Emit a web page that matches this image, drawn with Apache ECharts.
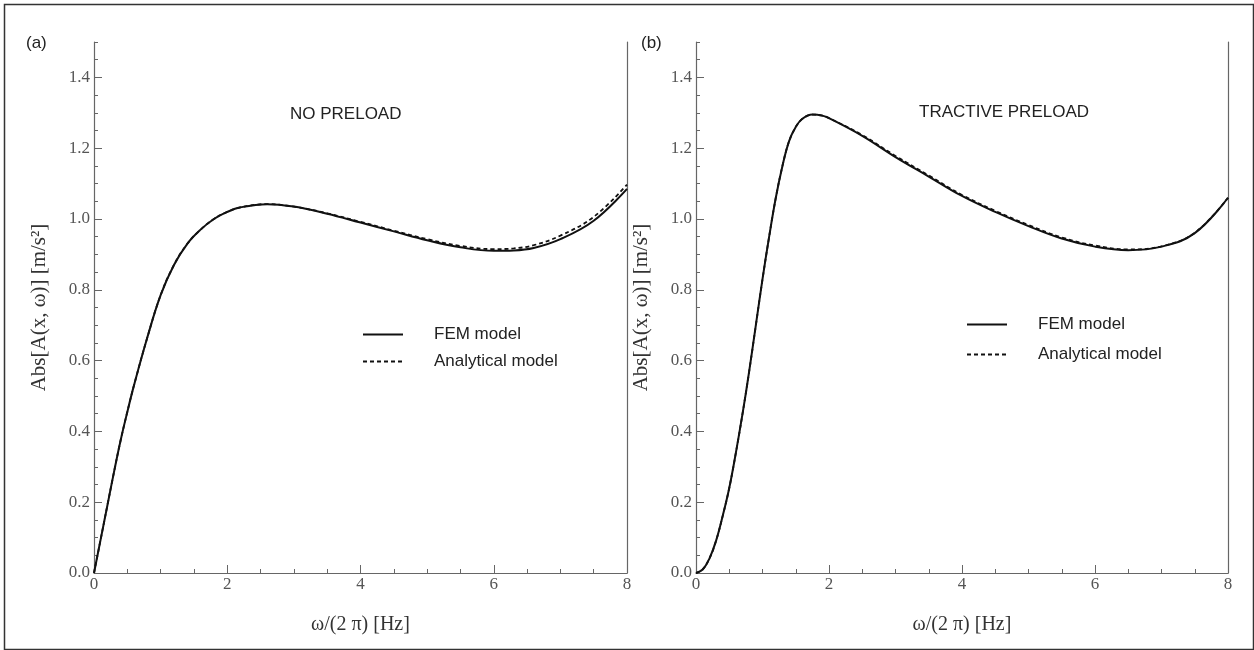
<!DOCTYPE html>
<html>
<head>
<meta charset="utf-8">
<script src="https://cdn.jsdelivr.net/npm/echarts@6/dist/echarts.min.js"></script>
<style>html,body{margin:0;padding:0;background:#fff;}#c{width:1254px;height:650px;}</style>
</head>
<body>
<div id="c"></div>
<script>
// Panel (a): NO PRELOAD
const femA = [[0,0],[0.1,0.095],[0.2,0.19],[0.3,0.285],[0.4,0.375],[0.5,0.455],[0.6,0.53],[0.8,0.665],[1.0,0.785],[1.2,0.87],[1.4,0.93],[1.6,0.97],[1.8,1.0],[2.0,1.02],[2.2,1.033],[2.6,1.042],[3.0,1.035],[3.5,1.015],[4.0,0.99],[4.5,0.965],[5.0,0.94],[5.5,0.92],[6.0,0.91],[6.3,0.911],[6.6,0.918],[7.0,0.943],[7.5,0.995],[8.0,1.085]];
const anaA = [[0,0],[0.1,0.095],[0.2,0.19],[0.3,0.285],[0.4,0.375],[0.5,0.455],[0.6,0.53],[0.8,0.665],[1.0,0.785],[1.2,0.87],[1.4,0.93],[1.6,0.97],[1.8,1.0],[2.0,1.02],[2.2,1.033],[2.6,1.042],[3.0,1.035],[3.5,1.016],[4.0,0.992],[4.5,0.967],[5.0,0.943],[5.5,0.924],[6.0,0.915],[6.3,0.917],[6.6,0.926],[7.0,0.953],[7.5,1.006],[8.0,1.097]];
// Panel (b): TRACTIVE PRELOAD
const femB = [[0,0],[0.1,0.01],[0.2,0.04],[0.3,0.09],[0.4,0.16],[0.5,0.24],[0.6,0.34],[0.7,0.45],[0.8,0.57],[0.9,0.7],[1.0,0.83],[1.1,0.95],[1.2,1.06],[1.3,1.15],[1.4,1.22],[1.5,1.26],[1.6,1.283],[1.75,1.295],[1.9,1.292],[2.0,1.285],[2.5,1.235],[3.0,1.175],[3.5,1.12],[4.0,1.065],[4.5,1.02],[5.0,0.98],[5.5,0.945],[6.0,0.922],[6.5,0.912],[7.0,0.922],[7.5,0.96],[8.0,1.06]];
const anaB = [[0,0],[0.1,0.01],[0.2,0.04],[0.3,0.09],[0.4,0.16],[0.5,0.24],[0.6,0.34],[0.7,0.45],[0.8,0.57],[0.9,0.7],[1.0,0.83],[1.1,0.95],[1.2,1.06],[1.3,1.15],[1.4,1.22],[1.5,1.26],[1.6,1.283],[1.75,1.295],[1.9,1.292],[2.0,1.285],[2.5,1.237],[3.0,1.178],[3.5,1.123],[4.0,1.068],[4.5,1.023],[5.0,0.983],[5.5,0.948],[6.0,0.925],[6.5,0.914],[7.0,0.923],[7.5,0.961],[8.0,1.06]];
const yMajor = [0,0.2,0.4,0.6,0.8,1.0,1.2,1.4];
const xMajor = [0,2,4,6,8];
const panelTitles = ['NO PRELOAD','TRACTIVE PRELOAD'];
const panelLabels = ['(a)','(b)'];
const legendNames = ['FEM model','Analytical model'];
const yName = 'Abs[A(x, ω)] [m/s²]';
const xName = 'ω/(2 π) [Hz]';

const axisColor = '#666';
const labelColor = '#555';
const serif = '"Liberation Serif","DejaVu Serif",serif';
const sans = '"Liberation Sans",Arial,sans-serif';

const grids = [
  {left:94, right:1254-627, top:42, bottom:650-573},
  {left:696, right:1254-1228, top:42, bottom:650-573}
];

const xAxes = [], yAxes = [], series = [];
[0,1].forEach(i => {
  xAxes.push({
    gridIndex:i, type:'value', min:0, max:8, interval:2,
    name:xName, nameLocation:'middle', nameGap:42,
    nameTextStyle:{fontFamily:serif, fontSize:20, color:'#333'},
    axisLine:{lineStyle:{color:axisColor, width:1.2}},
    axisTick:{inside:true, length:8, lineStyle:{color:axisColor}},
    minorTick:{show:true, splitNumber:4, length:4, lineStyle:{color:axisColor}},
    axisLabel:{fontFamily:serif, fontSize:17, color:labelColor, margin:3},
    splitLine:{show:false}
  });
  yAxes.push({
    gridIndex:i, type:'value', min:0, max:1.5, interval:0.05, position:'left',
    name:yName, nameLocation:'middle', nameGap:44, nameRotate:90,
    nameTextStyle:{fontFamily:serif, fontSize:21, color:'#333'},
    axisLine:{show:true, lineStyle:{color:axisColor, width:1.2}},
    axisTick:{show:true, inside:true, length:8, customValues:yMajor, lineStyle:{color:axisColor}},
    axisLabel:{fontFamily:serif, fontSize:17, color:labelColor, margin:4, customValues:yMajor,
      formatter:v=>v.toFixed(1)},
    splitLine:{show:false}
  });
  yAxes.push({
    gridIndex:i, type:'value', min:0, max:1.5, interval:0.05, position:'left', offset:0,
    axisLine:{show:false},
    axisTick:{show:true, inside:true, length:4, lineStyle:{color:axisColor}},
    axisLabel:{show:false},
    splitLine:{show:false}
  });
  yAxes.push({
    gridIndex:i, type:'value', min:0, max:1.5, position:'right',
    axisLine:{show:true, lineStyle:{color:axisColor, width:1.2}},
    axisTick:{show:false}, axisLabel:{show:false}, splitLine:{show:false}
  });
});

const dataSets = [[femA, anaA],[femB, anaB]];
[0,1].forEach(i => {
  series.push({
    name:legendNames[0], type:'line', xAxisIndex:i, yAxisIndex:i*3,
    data:dataSets[i][0], smooth:0.4, showSymbol:false, symbol:'none',
    lineStyle:{color:'#111', width:2}, itemStyle:{color:'#111'}, z:3
  });
  series.push({
    name:legendNames[1], type:'line', xAxisIndex:i, yAxisIndex:i*3,
    data:dataSets[i][1], smooth:0.4, showSymbol:false, symbol:'none',
    lineStyle:{color:'#111', width:1.8, type:[4,3]}, itemStyle:{color:'#111'}, z:2
  });
});

const legendCommon = {
  orient:'vertical', itemWidth:40, itemHeight:14,
  itemStyle:{opacity:0},
  textStyle:{fontFamily:sans, fontSize:17, color:'#222', padding:[0,0,0,26]},
  data:legendNames,
  selectedMode:false
};

const option = {
  animation:false,
  backgroundColor:'#fff',
  grid:grids,
  xAxis:xAxes,
  yAxis:yAxes,
  series:series,
  legend:[
    Object.assign({}, legendCommon, {left:357, top:321, itemGap:10}),
    Object.assign({}, legendCommon, {left:961, top:311, itemGap:13})
  ],
  title:[
    {text:panelTitles[0], left:285, top:101, textStyle:{fontFamily:sans, fontSize:17, fontWeight:'normal', color:'#222'}},
    {text:panelTitles[1], left:914, top:99, textStyle:{fontFamily:sans, fontSize:17, fontWeight:'normal', color:'#222'}},
    {text:panelLabels[0], left:21, top:30, textStyle:{fontFamily:sans, fontSize:17, fontWeight:'normal', color:'#222'}},
    {text:panelLabels[1], left:636, top:30, textStyle:{fontFamily:sans, fontSize:17, fontWeight:'normal', color:'#222'}}
  ],
  graphic:[{
    type:'rect', left:2, top:2, silent:true,
    shape:{width:1249, height:645},
    style:{fill:'none', stroke:'#333', lineWidth:1.5}
  }]
};

const chart = echarts.init(document.getElementById('c'), null, {renderer:'canvas'});
chart.setOption(option);
</script>
</body>
</html>
